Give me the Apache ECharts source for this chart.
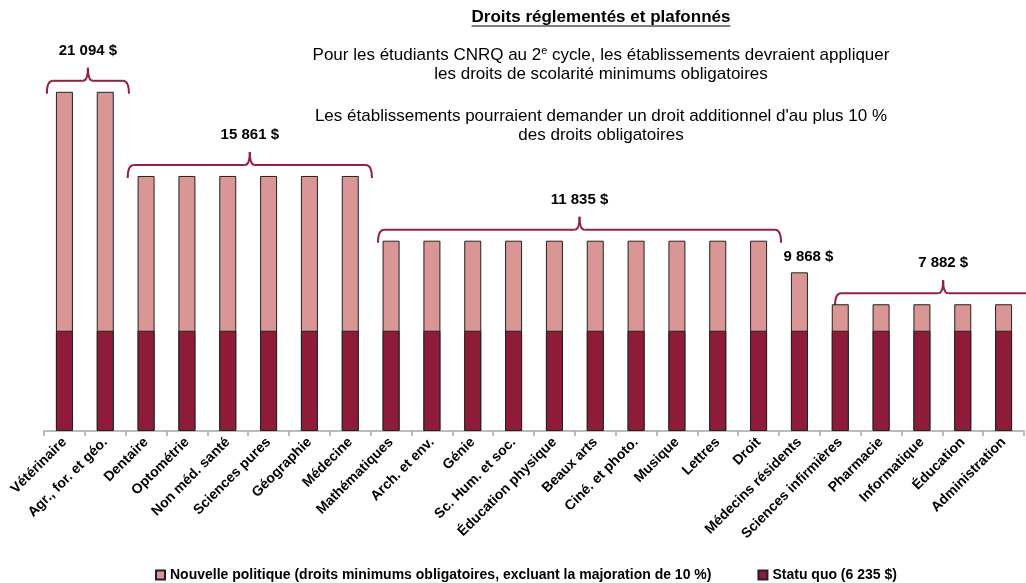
<!DOCTYPE html>
<html>
<head>
<meta charset="utf-8">
<script src="https://cdn.jsdelivr.net/npm/echarts@6/dist/echarts.min.js"></script>
<style>
  html, body { margin: 0; padding: 0; background: #fff; }
  #main { width: 1026px; height: 583px; }
</style>
</head>
<body>
<div id="main"></div>
<script>
// catégories (programmes)
var categories = ['Vétérinaire', 'Agr., for. et géo.', 'Dentaire', 'Optométrie', 'Non méd. santé',
  'Sciences pures', 'Géographie', 'Médecine', 'Mathématiques', 'Arch. et env.', 'Génie',
  'Sc. Hum. et soc.', 'Éducation physique', 'Beaux arts', 'Ciné. et photo.', 'Musique', 'Lettres',
  'Droit', 'Médecins résidents', 'Sciences infirmières', 'Pharmacie', 'Informatique', 'Éducation',
  'Administration'];

// droits minimums obligatoires (nouvelle politique)
var nouvellePolitique = [21094, 21094, 15861, 15861, 15861, 15861, 15861, 15861,
  11835, 11835, 11835, 11835, 11835, 11835, 11835, 11835, 11835, 11835,
  9868, 7882, 7882, 7882, 7882, 7882];

// statu quo
var statuQuo = [6235, 6235, 6235, 6235, 6235, 6235, 6235, 6235, 6235, 6235, 6235, 6235,
  6235, 6235, 6235, 6235, 6235, 6235, 6235, 6235, 6235, 6235, 6235, 6235];

// groupes annotés (début, fin) ; un groupe d'une seule barre n'a pas d'accolade
var groupStart = [0, 2, 8, 18, 19];
var groupEnd = [1, 7, 17, 18, 23];

var seriesNames = ['Nouvelle politique (droits minimums obligatoires, excluant la majoration de 10 %)',
  'Statu quo (6 235 $)'];

var FONT = '"Liberation Sans", Arial, sans-serif';
var PINK = '#D99694';
var DARK = '#8E1C38';
var BRACE = '#96203F';

function fmt(v) {
  return String(v).replace(/\B(?=(\d{3})+(?!\d))/g, ' ') + ' $';
}

var chart = echarts.init(document.getElementById('main'));

chart.setOption({
  animation: false,
  grid: { left: 44, right: 2, top: 29, bottom: 152 },
  legend: {
    left: 150,
    top: 563,
    itemGap: 46,
    itemWidth: 9,
    itemHeight: 9,
    icon: 'rect',
    textStyle: { fontFamily: FONT, fontWeight: 'bold', fontSize: 14, color: '#000' },
    data: seriesNames
  },
  xAxis: {
    type: 'category',
    data: categories,
    axisLine: { lineStyle: { color: '#A6A6A6', width: 1.5 } },
    axisTick: { show: true, length: 5, lineStyle: { color: '#A6A6A6', width: 1.5 } },
    axisLabel: {
      interval: 0,
      rotate: 45,
      margin: 9,
      fontFamily: FONT,
      fontWeight: 'bold',
      fontSize: 14,
      color: '#000'
    }
  },
  yAxis: {
    type: 'value',
    min: 0,
    max: 25000,
    show: false,
    splitLine: { show: false }
  },
  series: [
    {
      name: seriesNames[0],
      type: 'bar',
      barWidth: 17,
      barGap: '-100%',
      data: nouvellePolitique,
      itemStyle: { color: PINK, borderColor: '#222', borderWidth: 1 }
    },
    {
      name: seriesNames[1],
      type: 'bar',
      barWidth: 17,
      barGap: '-100%',
      data: statuQuo,
      itemStyle: { color: DARK, borderColor: '#222', borderWidth: 1 }
    }
  ]
});

// accolades + étiquettes
function px(i, v) {
  return chart.convertToPixel({ gridIndex: 0 }, [i, v]);
}

var band = px(1, 0)[0] - px(0, 0)[0];
// décalages des extrémités de chaque accolade (en largeur de catégorie)
var leftInset = [-0.43, -0.45, -0.32, 0, -0.13];
var rightInset = [0.58, 0.53, 0.55, 0, 1.17];

var braceStyle = { fill: 'none', stroke: BRACE, lineWidth: 2 };
function curve(x1, y1, cx, cy, x2, y2) {
  return { type: 'bezierCurve', shape: { x1: x1, y1: y1, cpx1: cx, cpy1: cy, x2: x2, y2: y2 }, style: braceStyle };
}
function seg(x1, y1, x2, y2) {
  return { type: 'line', shape: { x1: x1, y1: y1, x2: x2, y2: y2 }, style: braceStyle };
}

var graphics = [];
for (var g = 0; g < groupStart.length; g++) {
  var s = groupStart[g], e = groupEnd[g];
  var barTop = px(s, nouvellePolitique[s])[1];
  var label = fmt(nouvellePolitique[s]);
  if (s === e) {
    var c = px(s, nouvellePolitique[s]);
    graphics.push({
      type: 'text',
      style: { text: label, x: c[0] + 9, y: barTop - 15, align: 'center', verticalAlign: 'middle',
        font: 'bold 15px ' + FONT, fill: '#000' }
    });
    continue;
  }
  var xL = px(s, 0)[0] + leftInset[g] * band;
  var xR = px(e, 0)[0] + rightInset[g] * band;
  var xm = (xL + xR) / 2;
  var yh = barTop - 11;
  graphics.push(curve(xL, yh + 13, xL, yh, xL + 6, yh));
  graphics.push(seg(xL + 6, yh, xm - 5, yh));
  graphics.push(curve(xm - 5, yh, xm, yh, xm, yh - 13));
  graphics.push(curve(xm, yh - 13, xm, yh, xm + 5, yh));
  graphics.push(seg(xm + 5, yh, xR - 6, yh));
  graphics.push(curve(xR - 6, yh, xR, yh, xR, yh + 13));
  graphics.push({
    type: 'text',
    style: { text: label, x: xm, y: yh - 30, align: 'center', verticalAlign: 'middle',
      font: 'bold 15px ' + FONT, fill: '#000' }
  });
}

// titre souligné et texte explicatif
var titleText = 'Droits réglementés et plafonnés';
var titleFont = 'bold 17px ' + FONT;
var ctx = document.createElement('canvas').getContext('2d');
ctx.font = titleFont;
var tw = ctx.measureText(titleText).width;
var cx = 601;

graphics.push({
  type: 'text',
  style: { text: titleText, x: cx, y: 17, align: 'center', verticalAlign: 'middle', font: titleFont, fill: '#000' }
});
graphics.push({
  type: 'line',
  shape: { x1: cx - tw / 2, y1: 26, x2: cx + tw / 2, y2: 26 },
  style: { stroke: '#000', lineWidth: 1 }
});

var lines = [
  ['Pour les étudiants CNRQ au 2{sup|e} cycle, les établissements devraient appliquer', 55],
  ['les droits de scolarité minimums obligatoires', 74],
  ['Les établissements pourraient demander un droit additionnel d\'au plus 10 %', 116],
  ['des droits obligatoires', 135]
];
lines.forEach(function (l) {
  graphics.push({
    type: 'text',
    style: {
      text: l[0], x: cx, y: l[1], align: 'center', verticalAlign: 'middle',
      fontFamily: FONT, fontSize: 17, lineHeight: 19, fill: '#000',
      rich: { sup: { fontFamily: FONT, fontSize: 11, lineHeight: 19, verticalAlign: 'top', fill: '#000' } }
    }
  });
});

chart.setOption({ graphic: graphics });
</script>
</body>
</html>
